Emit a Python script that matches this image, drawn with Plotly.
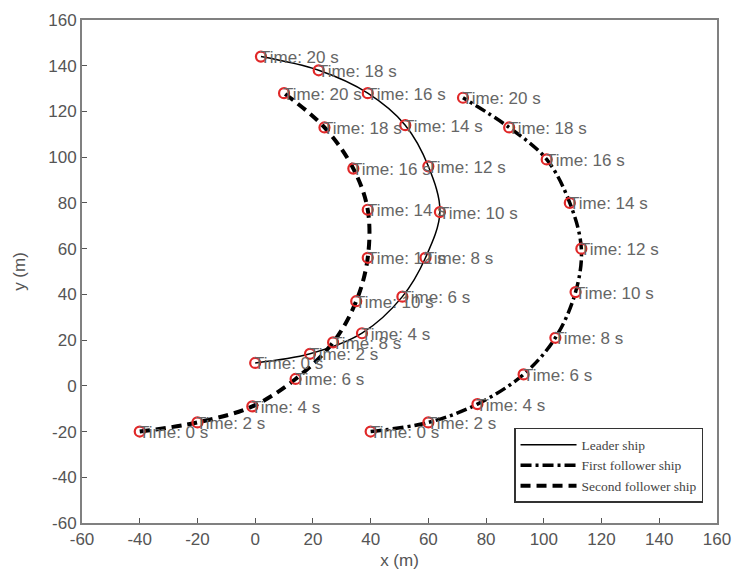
import plotly.graph_objects as go

times = [0, 2, 4, 6, 8, 10, 12, 14, 16, 18, 20]

leader_x = [0, 19, 37, 51, 59, 64, 60, 52, 39, 22, 2]
leader_y = [10, 14, 23, 39, 56, 76, 96, 114, 128, 138, 144]

first_x = [40, 60, 77, 93, 104, 111, 113, 109, 101, 88, 72]
first_y = [-20, -16, -8, 5, 21, 41, 60, 80, 99, 113, 126]

second_x = [-40, -20, -1, 14, 27, 35, 39, 39, 34, 24, 10]
second_y = [-20, -16, -9, 3, 19, 37, 56, 77, 95, 113, 128]

tick_vals = [-60, -40, -20, 0, 20, 40, 60, 80, 100, 120, 140, 160]
tick_text = [str(v) for v in tick_vals]

series = [
    ("Leader ship", leader_x, leader_y, dict(color="black", width=1.5, dash="solid")),
    ("First follower ship", first_x, first_y, dict(color="black", width=3.5, dash="11px,4px,3px,4px")),
    ("Second follower ship", second_x, second_y, dict(color="black", width=4, dash="10px,6px")),
]

fig = go.Figure()
for name, xs, ys, ln in series:
    fig.add_trace(go.Scatter(x=xs, y=ys, mode="lines", name=name, line=dict(shape="spline", **ln)))

for name, xs, ys, ln in series:
    fig.add_trace(go.Scatter(
        x=xs, y=ys, mode="markers", showlegend=False,
        marker=dict(symbol="circle-open", size=10, color="#e02828", line=dict(width=2.2, color="#e02828")),
    ))

annotations = []
for name, xs, ys, ln in series:
    for t, xv, yv in zip(times, xs, ys):
        annotations.append(dict(
            x=xv, y=yv, text=f"Time: {t} s", showarrow=False,
            xanchor="left", yanchor="middle", xshift=-3, yshift=-1,
            font=dict(family="Liberation Sans, Arial, sans-serif", size=17, color="#666666"),
        ))

axis_common = dict(
    tickvals=tick_vals, ticktext=tick_text, ticks="inside", ticklen=5, tickcolor="#555555", tickwidth=1,
    showgrid=False, zeroline=False, showline=True, linecolor="#808080", linewidth=2, mirror=True,
    automargin=False,
    tickfont=dict(family="Liberation Sans, Arial, sans-serif", size=17, color="#555555"),
    title_font=dict(family="Liberation Sans, Arial, sans-serif", size=17, color="#555555"),
)

fig.update_layout(
    width=735, height=575,
    margin=dict(l=82, r=18, t=20, b=52),
    paper_bgcolor="white", plot_bgcolor="white",
    xaxis=dict(range=[-60, 160], title=dict(text="x (m)", standoff=6), **axis_common),
    yaxis=dict(range=[-60, 160], title=dict(text="y (m)", standoff=18), **axis_common),
    annotations=annotations,
    legend=dict(
        x=0.978, y=0.04, xanchor="right", yanchor="bottom",
        bgcolor="white", bordercolor="#333333", borderwidth=1.5,
        font=dict(family="Liberation Serif, Times New Roman, serif", size=13.5, color="#444444"),
        tracegroupgap=0, itemwidth=56,
    ),
)

fig.write_html(
    "out.html",
    config={"displayModeBar": False},
    post_script="document.body.style.margin='0';document.body.style.overflow='hidden';",
)
